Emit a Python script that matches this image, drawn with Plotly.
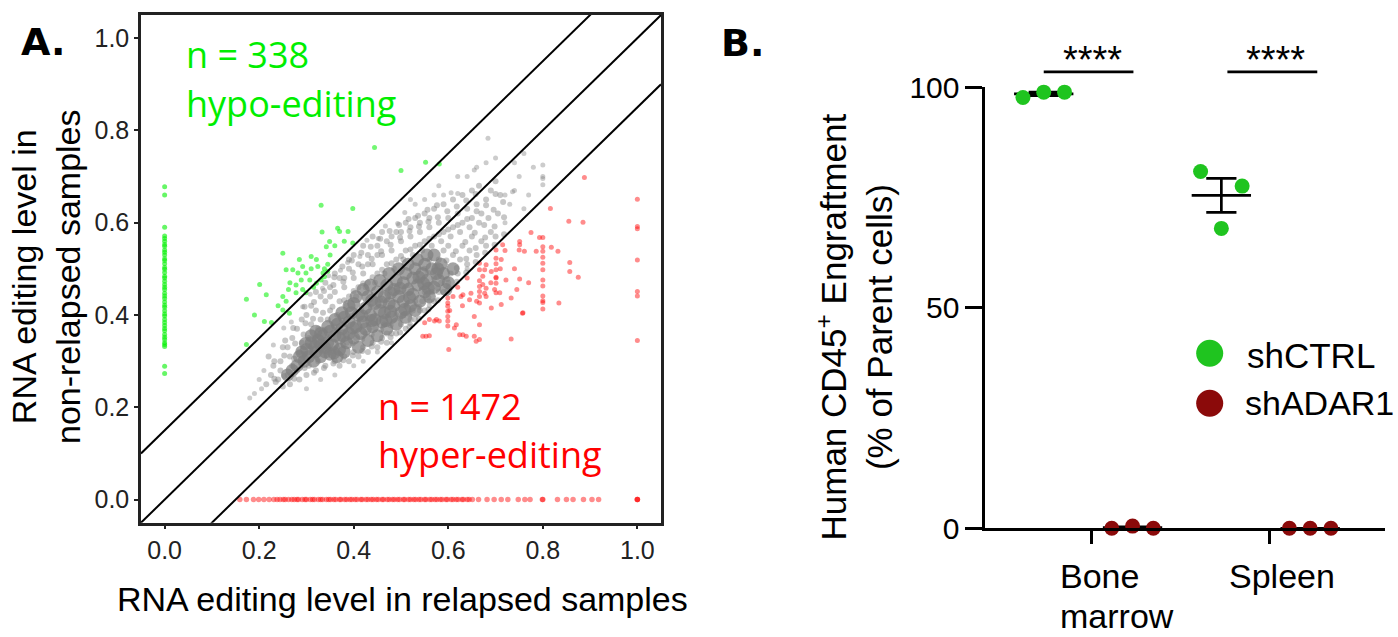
import numpy as np
import plotly.graph_objects as go

W, H = 1398, 637

# ---------------- Panel A data ----------------
gray_core = [(0.280,0.290),(0.285,0.310),(0.295,0.300),(0.300,0.325),(0.305,0.310),(0.310,0.340),
(0.315,0.300),(0.320,0.320),(0.325,0.345),(0.330,0.310),(0.330,0.335),
(0.335,0.355),(0.340,0.320),(0.345,0.340),(0.350,0.365),(0.350,0.315),
(0.355,0.335),(0.360,0.355),(0.365,0.380),(0.370,0.325),(0.370,0.350),(0.365,0.310),
(0.375,0.370),(0.380,0.395),(0.385,0.340),(0.390,0.360),(0.390,0.385),(0.380,0.320),
(0.395,0.405),(0.400,0.350),(0.405,0.375),(0.410,0.400),(0.410,0.330),(0.400,0.425),
(0.415,0.360),(0.420,0.385),(0.425,0.415),(0.430,0.345),(0.430,0.440),(0.425,0.370),
(0.435,0.400),(0.440,0.375),(0.445,0.425),(0.450,0.355),(0.450,0.450),(0.445,0.390),
(0.455,0.410),(0.460,0.385),(0.465,0.440),(0.470,0.370),(0.470,0.465),(0.465,0.405),
(0.475,0.425),(0.480,0.395),(0.485,0.455),(0.490,0.380),(0.490,0.475),(0.485,0.420),
(0.495,0.440),(0.500,0.405),(0.505,0.470),(0.510,0.395),(0.510,0.490),(0.505,0.430),
(0.515,0.455),(0.520,0.420),(0.525,0.480),(0.530,0.410),(0.530,0.500),(0.525,0.445),
(0.535,0.465),(0.540,0.430),(0.545,0.490),(0.550,0.450),(0.550,0.510),
(0.555,0.475),(0.560,0.440),(0.565,0.500),(0.570,0.460),(0.575,0.490),
(0.580,0.475),(0.585,0.510),(0.590,0.490),
(0.330,0.360),(0.345,0.375),(0.360,0.390),(0.375,0.405),(0.390,0.420),(0.405,0.440),(0.420,0.455),
(0.435,0.465),(0.455,0.475),(0.475,0.490),(0.495,0.500),(0.515,0.510),(0.535,0.520),(0.555,0.530),
(0.570,0.530),(0.600,0.470),(0.610,0.500),(0.595,0.455),(0.270,0.280),(0.260,0.270),(0.290,0.320),
(0.310,0.355),(0.320,0.365),
(0.398,0.372),(0.418,0.398),(0.438,0.388),(0.458,0.428),(0.478,0.408),(0.498,0.458),(0.518,0.438),
(0.538,0.482),(0.558,0.458),(0.578,0.500),(0.358,0.318),(0.378,0.355),(0.338,0.330),(0.318,0.332),
(0.298,0.338),(0.468,0.388),(0.508,0.412),(0.548,0.468),(0.438,0.432),(0.478,0.448)]

gray_mid = [(0.215,0.25),(0.225,0.27),(0.23,0.29),(0.22,0.31),(0.235,0.255),
(0.24,0.26),(0.245,0.30),(0.25,0.33),(0.245,0.28),(0.25,0.245),
(0.26,0.27),(0.265,0.31),(0.27,0.35),(0.26,0.33),(0.27,0.29),(0.265,0.25),
(0.28,0.28),(0.285,0.32),(0.28,0.37),(0.29,0.34),(0.29,0.39),(0.285,0.26),(0.29,0.30),
(0.30,0.27),(0.305,0.35),(0.30,0.40),(0.31,0.38),(0.31,0.42),(0.305,0.29),(0.31,0.33),
(0.32,0.28),(0.325,0.37),(0.32,0.41),(0.33,0.39),(0.33,0.44),(0.325,0.30),(0.33,0.34),(0.32,0.45),
(0.34,0.29),(0.345,0.39),(0.34,0.43),(0.35,0.41),(0.35,0.46),(0.345,0.32),(0.35,0.44),(0.34,0.47),
(0.36,0.30),(0.365,0.40),(0.36,0.45),(0.37,0.43),(0.37,0.48),(0.365,0.33),(0.37,0.29),(0.36,0.49),
(0.38,0.31),(0.385,0.42),(0.38,0.46),(0.39,0.44),(0.39,0.50),(0.385,0.34),(0.39,0.30),(0.38,0.48),(0.39,0.52),
(0.40,0.32),(0.405,0.44),(0.40,0.48),(0.41,0.46),(0.41,0.51),(0.405,0.35),(0.41,0.31),(0.40,0.53),
(0.42,0.33),(0.425,0.46),(0.42,0.49),(0.43,0.47),(0.43,0.53),(0.425,0.36),(0.43,0.32),(0.42,0.55),(0.43,0.51),
(0.44,0.34),(0.445,0.47),(0.44,0.51),(0.45,0.49),(0.45,0.55),(0.445,0.37),(0.45,0.33),(0.44,0.57),(0.45,0.53),
(0.46,0.35),(0.465,0.49),(0.46,0.53),(0.47,0.51),(0.47,0.56),(0.465,0.38),(0.47,0.34),(0.46,0.58),(0.47,0.36),
(0.48,0.36),(0.485,0.50),(0.48,0.54),(0.49,0.52),(0.49,0.58),(0.485,0.39),(0.49,0.36),(0.48,0.57),(0.49,0.40),
(0.50,0.38),(0.505,0.52),(0.50,0.56),(0.51,0.54),(0.51,0.60),(0.505,0.40),(0.51,0.37),(0.50,0.58),(0.51,0.42),
(0.52,0.39),(0.525,0.53),(0.52,0.57),(0.53,0.55),(0.53,0.61),(0.525,0.41),(0.53,0.39),(0.52,0.59),(0.53,0.43),
(0.54,0.41),(0.545,0.54),(0.54,0.58),(0.55,0.56),(0.55,0.62),(0.545,0.43),(0.55,0.41),(0.54,0.60),(0.55,0.45),(0.55,0.50),
(0.56,0.43),(0.565,0.55),(0.56,0.59),(0.57,0.57),(0.57,0.63),(0.565,0.45),(0.57,0.43),(0.56,0.61),(0.57,0.48),(0.56,0.52),
(0.58,0.45),(0.585,0.56),(0.58,0.60),(0.59,0.58),(0.59,0.64),(0.585,0.47),(0.59,0.45),(0.58,0.52),(0.59,0.54),
(0.60,0.47),(0.605,0.57),(0.60,0.61),(0.61,0.59),(0.61,0.65),(0.605,0.49),(0.61,0.53),(0.60,0.55),
(0.62,0.49),(0.625,0.58),(0.62,0.62),(0.63,0.60),(0.63,0.66),(0.625,0.52),(0.63,0.55),
(0.64,0.51),(0.645,0.59),(0.64,0.63),(0.65,0.61),(0.65,0.67),(0.645,0.54),(0.65,0.57),
(0.66,0.53),(0.665,0.60),(0.66,0.64),(0.67,0.62),(0.67,0.56),(0.665,0.68),
(0.68,0.55),(0.685,0.61),(0.68,0.65),(0.69,0.58),(0.69,0.67),
(0.70,0.57),(0.705,0.62),(0.71,0.66),(0.70,0.69),
(0.232,0.262),(0.232,0.300),(0.253,0.268),(0.253,0.312),(0.255,0.345),
(0.274,0.262),(0.274,0.305),(0.276,0.338),(0.272,0.372),
(0.296,0.285),(0.296,0.315),(0.294,0.358),(0.298,0.382),(0.296,0.418),
(0.316,0.275),(0.316,0.318),(0.318,0.352),(0.314,0.392),(0.316,0.428),
(0.337,0.285),(0.337,0.325),(0.339,0.368),(0.335,0.405),(0.337,0.452),
(0.357,0.295),(0.357,0.322),(0.359,0.375),(0.355,0.418),(0.357,0.465),(0.359,0.482),
(0.378,0.302),(0.378,0.335),(0.376,0.388),(0.380,0.432),(0.378,0.472),(0.376,0.505),
(0.398,0.312),(0.398,0.338),(0.396,0.398),(0.400,0.452),(0.398,0.492),(0.396,0.518),
(0.418,0.322),(0.418,0.348),(0.416,0.412),(0.420,0.468),(0.418,0.505),(0.416,0.535),
(0.438,0.332),(0.438,0.358),(0.436,0.418),(0.440,0.482),(0.438,0.522),(0.436,0.548),
(0.458,0.342),(0.458,0.368),(0.456,0.432),(0.460,0.498),(0.458,0.538),(0.456,0.565),
(0.478,0.352),(0.478,0.378),(0.476,0.445),(0.480,0.512),(0.478,0.552),(0.476,0.582),
(0.498,0.362),(0.498,0.392),(0.496,0.455),(0.500,0.528),(0.498,0.568),(0.496,0.595),
(0.518,0.375),(0.518,0.402),(0.516,0.465),(0.520,0.542),(0.518,0.582),(0.516,0.608),
(0.538,0.392),(0.538,0.418),(0.536,0.478),(0.540,0.552),(0.538,0.592),(0.536,0.615),
(0.558,0.412),(0.558,0.438),(0.556,0.492),(0.560,0.565),(0.558,0.602),(0.556,0.628),
(0.578,0.432),(0.578,0.458),(0.576,0.505),(0.580,0.575),(0.578,0.612),(0.576,0.638),
(0.598,0.452),(0.598,0.478),(0.596,0.518),(0.600,0.585),(0.598,0.625),
(0.618,0.472),(0.618,0.502),(0.616,0.538),(0.620,0.595),(0.618,0.635),
(0.638,0.492),(0.638,0.522),(0.636,0.558),(0.640,0.608),(0.638,0.648),
(0.658,0.515),(0.658,0.545),(0.656,0.578),(0.660,0.625),(0.658,0.662),
(0.678,0.535),(0.678,0.568),(0.676,0.595),(0.680,0.638),
(0.698,0.552),(0.698,0.592),(0.696,0.628),(0.700,0.662),
(0.718,0.575),(0.718,0.612),(0.716,0.645)]

gray_sparse = [(0.72,0.60),(0.73,0.64),(0.74,0.67),(0.736,0.667),(0.75,0.70),(0.76,0.63),(0.77,0.66),
(0.78,0.72),(0.80,0.696),(0.80,0.682),(0.80,0.70),(0.80,0.725),(0.684,0.783),(0.655,0.714),
(0.606,0.665),(0.62,0.663),(0.59,0.66),(0.72,0.66),(0.70,0.74),(0.66,0.72),(0.64,0.70),(0.62,0.70),
(0.58,0.68),(0.57,0.66),(0.55,0.65),(0.53,0.64),(0.52,0.65),(0.74,0.73),(0.76,0.75),(0.68,0.73),
(0.19,0.23),(0.20,0.26),(0.21,0.28),(0.205,0.24),(0.18,0.22),(0.23,0.335),(0.252,0.372),(0.268,0.385),
(0.292,0.418),(0.308,0.445),(0.334,0.458),(0.347,0.485),(0.372,0.497),(0.387,0.514),(0.413,0.527),
(0.428,0.562),(0.452,0.566),(0.467,0.593),(0.493,0.598),(0.508,0.622),(0.30,0.24),(0.33,0.26),
(0.36,0.27),(0.40,0.29),(0.42,0.30),(0.45,0.32),(0.48,0.34),(0.52,0.38),(0.56,0.42),(0.60,0.46),(0.64,0.50)]

hypo_zero_y = [0.678,0.660,0.590,0.571,0.566,0.560,0.553,0.549,0.541,0.536,0.530,0.522,0.518,0.511,
0.503,0.499,0.492,0.484,0.480,0.473,0.466,0.460,0.455,0.447,0.441,0.436,0.428,0.421,0.417,0.409,
0.402,0.398,0.390,0.384,0.377,0.371,0.366,0.358,0.352,0.347,0.340,0.336,0.332,0.289,0.273]

hypo_points = [(0.444,0.763),(0.500,0.713),(0.552,0.731),(0.581,0.727),(0.331,0.638),(0.398,0.631),
(0.333,0.580),(0.366,0.588),(0.370,0.581),(0.388,0.581),(0.349,0.559),(0.342,0.548),(0.398,0.556),
(0.250,0.534),(0.285,0.520),(0.292,0.505),(0.299,0.491),(0.310,0.527),(0.257,0.498),(0.271,0.498),
(0.282,0.491),(0.289,0.476),(0.321,0.520),(0.324,0.505),(0.335,0.491),(0.331,0.476),(0.338,0.483),
(0.201,0.466),(0.173,0.434),(0.215,0.444),(0.250,0.440),(0.257,0.430),(0.278,0.448),(0.292,0.455),
(0.299,0.448),(0.250,0.411),(0.264,0.404),(0.211,0.386),(0.226,0.384),(0.173,0.336),(0.307,0.476),
(0.321,0.469),(0.278,0.465),(0.265,0.470),(0.310,0.500),(0.345,0.510),(0.350,0.530),(0.360,0.550),
(0.380,0.560),(0.315,0.460),(0.262,0.455),(0.240,0.420),(0.190,0.400),(0.345,0.495),(0.338,0.500)]

hyper_zero_x = [0.159,0.173,0.188,0.199,0.210,0.221,0.231,0.238,0.244,0.251,0.255,0.262,0.269,0.274,
0.280,0.283,0.291,0.297,0.300,0.308,0.313,0.317,0.325,0.330,0.334,0.342,0.347,0.351,0.358,0.362,
0.370,0.373,0.381,0.385,0.392,0.396,0.403,0.407,0.415,0.418,0.426,0.430,0.437,0.441,0.448,0.452,
0.460,0.463,0.471,0.475,0.482,0.486,0.493,0.497,0.505,0.508,0.516,0.520,0.527,0.531,0.538,0.542,
0.550,0.553,0.561,0.565,0.572,0.576,0.583,0.587,0.595,0.598,0.606,0.610,0.617,0.621,0.629,0.632,
0.640,0.644,0.651,0.664,0.682,0.697,0.712,0.726,0.748,0.762,0.773,0.799,0.800,0.831,0.850,0.864,
0.886,0.904,0.918,1.0,1.0,1.0]

hyper_points = [(0.888,0.698),(1.0,0.651),(1.0,0.587),(1.0,0.592),(1.0,0.519),(1.0,0.451),(1.0,0.441),
(1.0,0.345),(0.816,0.631),(0.855,0.603),(0.885,0.601),(0.775,0.579),(0.751,0.559),(0.751,0.552),
(0.793,0.568),(0.800,0.568),(0.800,0.548),(0.800,0.538),(0.800,0.525),(0.800,0.512),(0.800,0.498),
(0.800,0.476),(0.800,0.463),(0.800,0.441),(0.800,0.427),(0.800,0.413),(0.800,0.431),(0.786,0.538),
(0.818,0.547),(0.832,0.538),(0.857,0.514),(0.857,0.494),(0.875,0.482),(0.834,0.426),(0.761,0.538),
(0.701,0.541),(0.701,0.523),(0.701,0.511),(0.701,0.498),(0.701,0.482),(0.701,0.469),(0.701,0.448),
(0.666,0.512),(0.666,0.498),(0.666,0.474),(0.666,0.462),(0.666,0.451),(0.666,0.440),(0.666,0.426),
(0.712,0.520),(0.722,0.476),(0.751,0.478),(0.733,0.437),(0.758,0.405),(0.712,0.423),(0.691,0.415),
(0.599,0.437),(0.599,0.426),(0.599,0.419),(0.599,0.408),(0.599,0.397),(0.599,0.387),(0.599,0.376),
(0.601,0.325),(0.627,0.440),(0.631,0.444),(0.610,0.440),(0.645,0.433),(0.648,0.447),(0.655,0.397),
(0.666,0.379),(0.638,0.354),(0.666,0.347),(0.631,0.357),(0.617,0.379),(0.613,0.372),(0.581,0.387),
(0.571,0.387),(0.553,0.354),(0.560,0.355),(0.550,0.383),(0.673,0.484),(0.701,0.480),(0.698,0.455),
(0.680,0.458),(0.677,0.447),(0.709,0.448),(0.691,0.494),(0.677,0.498),(0.680,0.509),(0.673,0.466),
(0.733,0.348),(0.655,0.354),(0.624,0.357),(0.715,0.552),(0.750,0.541),(0.757,0.404),(0.659,0.343),
(0.560,0.390),(0.546,0.354),(0.575,0.390),(0.603,0.410),(0.620,0.460),(0.640,0.480),(0.630,0.420),
(0.660,0.430),(0.680,0.440),(0.690,0.470),(0.710,0.500),(0.720,0.540),(0.740,0.500),(0.770,0.470),
(0.745,0.455)]

diag_offsets = [-0.15, 0.0, 0.15]
a_tickvals = [0.0, 0.2, 0.4, 0.6, 0.8, 1.0]
a_ticktext = ["0.0", "0.2", "0.4", "0.6", "0.8", "1.0"]
a_range = [-0.05, 1.05]

# ---------------- Panel B data ----------------
tissues = ["Bone marrow", "Spleen"]
shctrl_bm = [97.7, 98.9, 98.9]
shctrl_sp = [80.9, 68.0, 77.6]
shadar_bm = [0.0, 0.5, 0.0]
shadar_sp = [0.0, 0.0, 0.0]
b_tickvals = [0, 50, 100]
b_ticktext = ["0", "50", "100"]

# ---------------- styling / layout helpers ----------------
FONT = "Liberation Sans, Arial, sans-serif"
GREEN_B = "#1fc41f"
RED_B = "#8b0a0a"


def pxx(x):
    return x / W


def pxy(y):
    return 1 - y / H


A_DOM_X = [pxx(141), pxx(661)]
A_DOM_Y = [pxy(522.7), pxy(15)]
B_DOM_X = [pxx(985.3), pxx(1385.3)]
B_DOM_Y = [pxy(528.3), pxy(87.3)]
B_YRANGE = [0, 100]
B_XRANGE = [-0.329, 1.923]
GROUP_OFFSET = {"shCTRL": 0.0, "shADAR1": 0.5}
JITTER = [-0.117, 0.0, 0.117]
TICK_SHIFT = 0.27
MEAN_HALF = 0.167
CAP_HALF = 0.085


def b_paper_y(v):
    return B_DOM_Y[0] + (v - B_YRANGE[0]) / (B_YRANGE[1] - B_YRANGE[0]) * (B_DOM_Y[1] - B_DOM_Y[0])


def unzip(pairs):
    return [p[0] for p in pairs], [p[1] for p in pairs]


fig = go.Figure()

# ---- Panel A traces ----
gx, gy = unzip(gray_mid)
fig.add_trace(go.Scatter(x=gx, y=gy, mode="markers", xaxis="x", yaxis="y",
                         marker=dict(size=6, color="rgba(128,128,128,0.45)", line=dict(width=0)),
                         showlegend=False, hoverinfo="skip"))
gx, gy = unzip(gray_sparse)
fig.add_trace(go.Scatter(x=gx, y=gy, mode="markers", xaxis="x", yaxis="y",
                         marker=dict(size=5, color="rgba(128,128,128,0.4)", line=dict(width=0)),
                         showlegend=False, hoverinfo="skip"))
gx, gy = unzip(gray_core)
fig.add_trace(go.Scatter(x=gx, y=gy, mode="markers", xaxis="x", yaxis="y",
                         marker=dict(size=13, color="rgba(128,128,128,0.72)", line=dict(width=0)),
                         showlegend=False, hoverinfo="skip"))
fig.add_trace(go.Scatter(x=[0.0] * len(hypo_zero_y), y=hypo_zero_y, mode="markers", xaxis="x", yaxis="y",
                         marker=dict(size=5, color="rgba(0,240,0,0.6)", line=dict(width=0)),
                         showlegend=False, hoverinfo="skip"))
hx, hy = unzip(hypo_points)
fig.add_trace(go.Scatter(x=hx, y=hy, mode="markers", xaxis="x", yaxis="y",
                         marker=dict(size=5, color="rgba(0,240,0,0.55)", line=dict(width=0)),
                         showlegend=False, hoverinfo="skip"))
fig.add_trace(go.Scatter(x=hyper_zero_x, y=[0.0] * len(hyper_zero_x), mode="markers", xaxis="x", yaxis="y",
                         marker=dict(size=5.5, color="rgba(255,0,0,0.45)", line=dict(width=0)),
                         showlegend=False, hoverinfo="skip", cliponaxis=False))
rx, ry = unzip(hyper_points)
fig.add_trace(go.Scatter(x=rx, y=ry, mode="markers", xaxis="x", yaxis="y",
                         marker=dict(size=5, color="rgba(255,0,0,0.45)", line=dict(width=0)),
                         showlegend=False, hoverinfo="skip"))
for off in diag_offsets:
    xs = np.array(a_range)
    fig.add_trace(go.Scatter(x=xs, y=xs + off, mode="lines", xaxis="x", yaxis="y",
                             line=dict(color="black", width=2), showlegend=False, hoverinfo="skip"))

# ---- Panel B traces ----
groups = [("shCTRL", GREEN_B, [shctrl_bm, shctrl_sp]), ("shADAR1", RED_B, [shadar_bm, shadar_sp])]
for gname, col, vals_by_tissue in groups:
    for ti, vals in enumerate(vals_by_tissue):
        c = ti + GROUP_OFFSET[gname]
        m = float(np.mean(vals))
        s = float(np.std(vals, ddof=1) / np.sqrt(len(vals)))
        fig.add_trace(go.Scatter(x=[c - MEAN_HALF, c + MEAN_HALF], y=[m, m], mode="lines",
                                 xaxis="x2", yaxis="y2", line=dict(color="black", width=2.7),
                                 showlegend=False, hoverinfo="skip"))
        fig.add_trace(go.Scatter(x=[c - CAP_HALF, c + CAP_HALF, None, c, c, None, c - CAP_HALF, c + CAP_HALF],
                                 y=[m + s, m + s, None, m + s, m - s, None, m - s, m - s], mode="lines",
                                 xaxis="x2", yaxis="y2", line=dict(color="black", width=2.7),
                                 showlegend=False, hoverinfo="skip"))
for gname, col, vals_by_tissue in groups:
    xs, ys = [], []
    for ti, vals in enumerate(vals_by_tissue):
        c = ti + GROUP_OFFSET[gname]
        xs += [c + j for j in JITTER]
        ys += list(vals)
    fig.add_trace(go.Scatter(x=xs, y=ys, mode="markers", xaxis="x2", yaxis="y2", name=gname,
                             marker=dict(size=15, color=col, line=dict(width=0)),
                             showlegend=False, cliponaxis=False))

# ---- axes ----
axA = dict(range=a_range, tickvals=a_tickvals, ticktext=a_ticktext, ticks="outside", ticklen=4,
           tickwidth=1.5, tickcolor="#222", showline=True, mirror=True, linewidth=2.5, linecolor="#222",
           showgrid=False, zeroline=False, automargin=False,
           tickfont=dict(family=FONT, size=25, color="#222"))
fig.update_layout(
    xaxis=dict(domain=A_DOM_X, anchor="y", **axA),
    yaxis=dict(domain=A_DOM_Y, anchor="x", **axA),
    xaxis2=dict(domain=B_DOM_X, anchor="y2", range=B_XRANGE,
                tickvals=[i + TICK_SHIFT for i in range(len(tissues))], showticklabels=False,
                ticks="outside", ticklen=13, tickwidth=2.7, tickcolor="black", showline=True,
                linewidth=2.7, linecolor="black", showgrid=False, zeroline=False, automargin=False),
    yaxis2=dict(domain=B_DOM_Y, anchor="x2", range=B_YRANGE, tickvals=b_tickvals, ticktext=b_ticktext,
                ticks="outside", ticklen=17, tickwidth=2.7, tickcolor="black", showline=True,
                linewidth=2.7, linecolor="black", showgrid=False, zeroline=False, automargin=False,
                tickfont=dict(family=FONT, size=30, color="black")),
    width=W, height=H, autosize=False, margin=dict(l=0, r=0, t=0, b=0, pad=0, autoexpand=False),
    paper_bgcolor="white", plot_bgcolor="white", showlegend=False,
)

ann = []


def add_text(text, x, y, size, color="black", family=FONT, xanchor="center", yanchor="middle", angle=0):
    ann.append(dict(text=text, x=pxx(x), y=pxy(y), xref="paper", yref="paper", showarrow=False,
                    xanchor=xanchor, yanchor=yanchor, textangle=angle,
                    font=dict(family=family, size=size, color=color)))


# panel labels
add_text("<b>A.</b>", 43.5, 42, 38, family="DejaVu Sans, sans-serif")
add_text("<b>B.</b>", 742, 43, 38, family="DejaVu Sans, sans-serif")
# panel A texts
OS = "Open Sans, sans-serif"
add_text("n = 338", 184, 54, 36, color="#00ee00", family=OS, xanchor="left")
add_text("hypo-editing", 184, 104, 36, color="#00ee00", family=OS, xanchor="left")
add_text("n = 1472", 376, 406, 36, color="#ff0000", family=OS, xanchor="left")
add_text("hyper-editing", 376, 454, 36, color="#ff0000", family=OS, xanchor="left")
add_text("RNA editing level in relapsed samples", 402, 599, 34)
add_text("RNA editing level in<br>non-relapsed samples", 46, 277, 34, angle=-90)
# panel B texts
add_text("Human CD45<sup>+</sup> Engraftment<br>(% of Parent cells)", 853.5, 327, 35, angle=-90)
add_text("Bone", 1058, 576, 34, xanchor="left")
add_text("marrow", 1058, 616, 34, xanchor="left")
add_text("Spleen", 1227, 576, 34, xanchor="left")
add_text("shCTRL", 1245, 355, 35, xanchor="left")
add_text("shADAR1", 1243, 403, 34, xanchor="left")

sig_bars = [(0.0, 0.505), (1.034, 1.54)]
SIG_LEVEL = 103.5
shapes = []
for (x0, x1) in sig_bars:
    shapes.append(dict(type="line", xref="x2", yref="paper", x0=x0, x1=x1,
                       y0=b_paper_y(SIG_LEVEL), y1=b_paper_y(SIG_LEVEL), line=dict(color="black", width=2.7)))
    ann.append(dict(text="****", x=(x0 + x1) / 2 + 0.02, y=pxy(60), xref="x2", yref="paper", showarrow=False,
                    xanchor="center", yanchor="middle", font=dict(family=FONT, size=38, color="black")))

# legend symbols
for (cy, col) in [(353.3, GREEN_B), (403.3, RED_B)]:
    r = 13.5
    shapes.append(dict(type="circle", xref="paper", yref="paper", x0=pxx(1209.7 - r), x1=pxx(1209.7 + r),
                       y0=pxy(cy + r), y1=pxy(cy - r), fillcolor=col, line=dict(width=0)))

fig.update_layout(annotations=ann, shapes=shapes)

fig.write_html("out.html", config={"displayModeBar": False},
               post_script="document.body.style.margin='0';document.body.style.overflow='hidden';")
